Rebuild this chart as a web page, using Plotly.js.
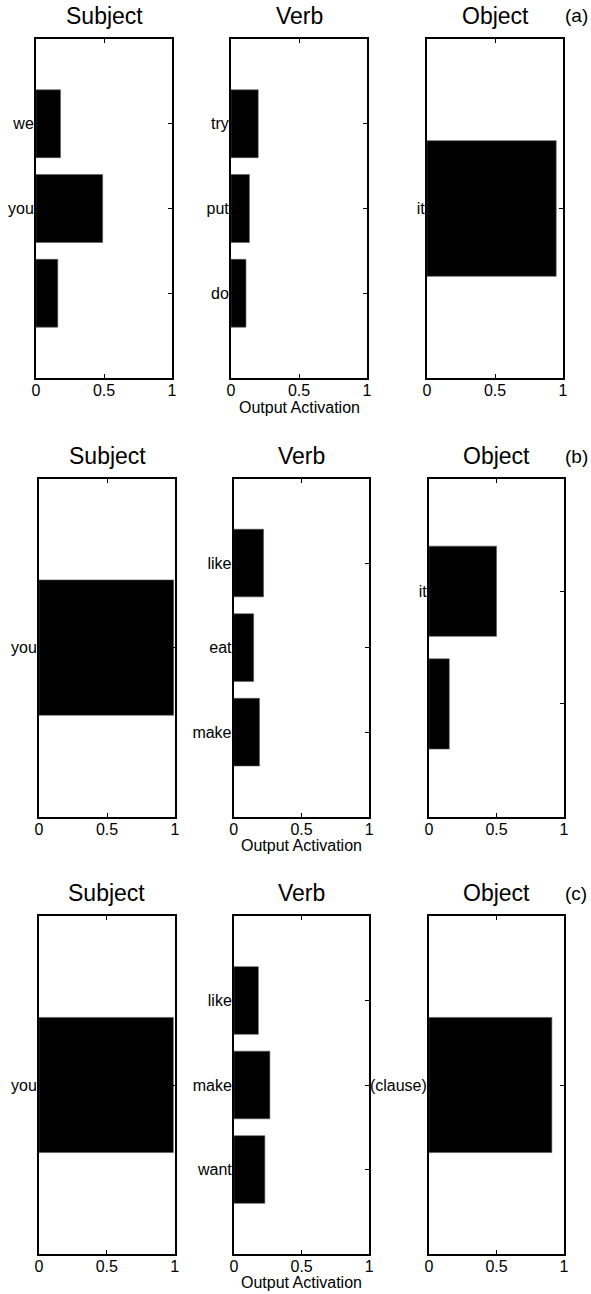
<!DOCTYPE html>
<html>
<head>
<meta charset="utf-8">
<script src="https://cdn.plot.ly/plotly-3.0.1.min.js"></script>
<style>html,body{margin:0;padding:0;background:#fff;}#chart{width:591px;height:1294px;}</style>
</head>
<body>
<div id="chart"></div>
<script>
// ---- data ----
const panelTitles = ["Subject", "Verb", "Object"];
const rowTags = ["(a)", "(b)", "(c)"];
const xTickVals = [0, 0.5, 1];
const xTickText = ["0", "0.5", "1"];
const xAxisTitle = "Output Activation";

const subjectA_labels = ["we", "you", ""];
const subjectA_values = [0.18, 0.49, 0.16];
const verbA_labels = ["try", "put", "do"];
const verbA_values = [0.20, 0.135, 0.11];
const objectA_labels = ["it"];
const objectA_values = [0.95];

const subjectB_labels = ["you"];
const subjectB_values = [0.99];
const verbB_labels = ["like", "eat", "make"];
const verbB_values = [0.22, 0.147, 0.19];
const objectB_labels = ["it", ""];
const objectB_values = [0.50, 0.15];

const subjectC_labels = ["you"];
const subjectC_values = [0.99];
const verbC_labels = ["like", "make", "want"];
const verbC_values = [0.18, 0.265, 0.228];
const objectC_labels = ["(clause)"];
const objectC_values = [0.91];

// ---- layout geometry (pixels) ----
const W = 591, H = 1294;
const rowsPx = [[39, 378], [478.5, 816.7], [916, 1254]];
const colsPx = [
  [[36, 172], [231, 367], [427, 563]],
  [[39, 175], [233.7, 369.3], [429, 564]],
  [[39, 174.7], [234, 369.3], [429, 564]]
];
const titleY = [16, 456, 893];
const xlabY = [408, 845, 1282];

const panelData = [
  [[subjectA_labels, subjectA_values], [verbA_labels, verbA_values], [objectA_labels, objectA_values]],
  [[subjectB_labels, subjectB_values], [verbB_labels, verbB_values], [objectB_labels, objectB_values]],
  [[subjectC_labels, subjectC_values], [verbC_labels, verbC_values], [objectC_labels, objectC_values]]
];

const FONT = "Liberation Sans, Arial, sans-serif";
const traces = [];
const layout = {
  width: W, height: H,
  margin: {l: 0, r: 0, t: 0, b: 0},
  paper_bgcolor: "#fff", plot_bgcolor: "#fff",
  showlegend: false,
  font: {family: FONT, size: 16, color: "#000"},
  annotations: []
};

let k = 0;
for (let r = 0; r < 3; r++) {
  for (let c = 0; c < 3; c++) {
    k++;
    const [labels, values] = panelData[r][c];
    const n = labels.length;
    const pos = labels.map((_, i) => i + 1);
    const xa = k === 1 ? "x" : "x" + k;
    const ya = k === 1 ? "y" : "y" + k;
    traces.push({
      type: "bar", orientation: "h",
      x: values, y: pos, width: 0.8,
      xaxis: xa, yaxis: ya,
      marker: {color: "#000", line: {color: "#555", width: 0.6}},
      hoverinfo: "skip"
    });
    const [x0, x1] = colsPx[r][c];
    const [y0, y1] = rowsPx[r];
    const xName = k === 1 ? "xaxis" : "xaxis" + k;
    const yName = k === 1 ? "yaxis" : "yaxis" + k;
    layout[xName] = {
      domain: [x0 / W, x1 / W], anchor: ya,
      range: [0, 1], tickvals: xTickVals, ticktext: xTickText,
      ticks: "inside", ticklen: 4, tickwidth: 1, tickcolor: "#000",
      ticklabelstandoff: -3,
      showline: true, linecolor: "#000", linewidth: 2, mirror: "ticks",
      showgrid: false, zeroline: false, fixedrange: true,
      tickfont: {family: FONT, size: 16, color: "#000"}
    };
    layout[yName] = {
      domain: [1 - y1 / H, 1 - y0 / H], anchor: xa,
      range: [n + 1, 0], tickvals: pos, ticktext: labels,
      ticks: "inside", ticklen: 4, tickwidth: 1, tickcolor: "#000",
      ticklabelstandoff: -3,
      showline: true, linecolor: "#000", linewidth: 2, mirror: "ticks",
      showgrid: false, zeroline: false, fixedrange: true,
      tickfont: {family: FONT, size: 16, color: "#000"}
    };
    layout.annotations.push({
      text: panelTitles[c], xref: "paper", yref: "paper",
      x: (x0 + x1) / 2 / W, y: 1 - titleY[r] / H,
      xanchor: "center", yanchor: "middle", showarrow: false,
      font: {family: FONT, size: 23, color: "#000"}
    });
    if (c === 1) {
      layout.annotations.push({
        text: xAxisTitle, xref: "paper", yref: "paper",
        x: (x0 + x1) / 2 / W, y: 1 - xlabY[r] / H,
        xanchor: "center", yanchor: "middle", showarrow: false,
        font: {family: FONT, size: 16, color: "#000"}
      });
    }
  }
  layout.annotations.push({
    text: rowTags[r], xref: "paper", yref: "paper",
    x: 576 / W, y: 1 - titleY[r] / H,
    xanchor: "center", yanchor: "middle", showarrow: false,
    font: {family: FONT, size: 19, color: "#000"}
  });
}

Plotly.newPlot("chart", traces, layout, {staticPlot: true, displayModeBar: false});
</script>
</body>
</html>
